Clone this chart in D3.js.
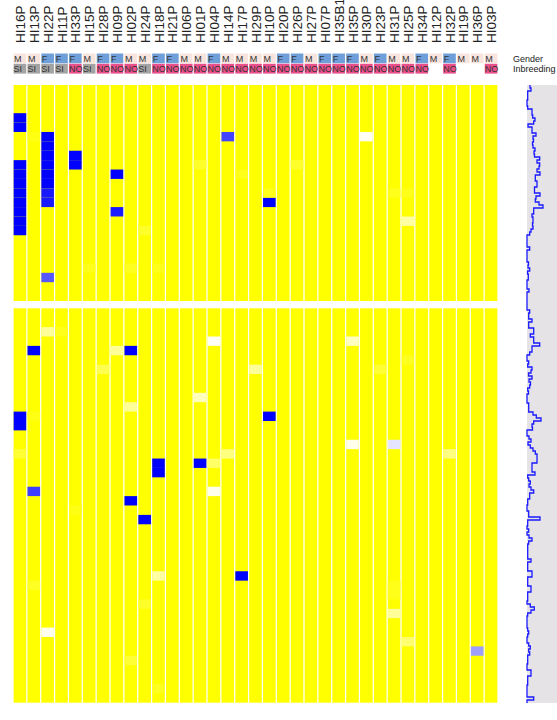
<!DOCTYPE html>
<html>
<head>
<meta charset="utf-8">
<script src="https://cdn.jsdelivr.net/npm/d3@7"></script>
<style>
  body { margin: 0; background: #fff; }
  svg { display: block; font-family: "Liberation Sans", Arial, sans-serif; }
</style>
</head>
<body>
<div id="chart"></div>
<script>
// samples (columns), in plot order
const SAMPLES = ["HI16P", "HI13P", "HI22P", "HI11P", "HI33P", "HI15P", "HI28P", "HI09P", "HI02P", "HI24P",
    "HI18P", "HI21P", "HI06P", "HI01P", "HI04P", "HI14P", "HI17P", "HI29P", "HI10P", "HI20P",
    "HI26P", "HI27P", "HI07P", "HI35B1", "HI35P", "HI30P", "HI23P", "HI31P", "HI25P", "HI34P",
    "HI12P", "HI32P", "HI19P", "HI36P", "HI03P"];
const GENDER = ["M", "M", "F", "F", "F", "M", "F", "F", "M", "M",
    "F", "F", "M", "M", "F", "M", "M", "M", "M", "F",
    "F", "M", "F", "F", "F", "M", "F", "M", "M", "F",
    "M", "F", "M", "M", "M"];
const INBREEDING = ["SI", "SI", "SI", "SI", "NO", "SI", "NO", "NO", "NO", "SI",
    "NO", "NO", "NO", "NO", "NO", "NO", "NO", "NO", "NO", "NO",
    "NO", "NO", "NO", "NO", "NO", "NO", "NO", "NO", "NO", "NO",
    "", "NO", "", "", "NO"];

// rows: two blocks
const TOP_ROWS = 23;
const BOTTOM_ROWS = 42;

// non-background cells: [sample, row, value]  (0 = yellow, 0.5 = white, 1 = blue)
const CELLS = [
    ["HI16P", 3, 1], ["HI16P", 4, 1],
    ["HI16P", 8, 1], ["HI16P", 9, 1], ["HI16P", 10, 1], ["HI16P", 11, 1],
    ["HI16P", 12, 1], ["HI16P", 13, 1], ["HI16P", 14, 1], ["HI16P", 15, 1],
    ["HI13P", 5, 0.04],
    ["HI22P", 5, 1], ["HI22P", 6, 1], ["HI22P", 7, 1], ["HI22P", 8, 1],
    ["HI22P", 9, 1], ["HI22P", 10, 1], ["HI22P", 11, 0.95], ["HI22P", 12, 0.95],
    ["HI22P", 20, 0.83],
    ["HI33P", 7, 1], ["HI33P", 8, 1],
    ["HI09P", 9, 1], ["HI09P", 13, 0.95],
    ["HI14P", 5, 0.87],
    ["HI01P", 8, 0.08], ["HI17P", 9, 0.05], ["HI24P", 15, 0.08],
    ["HI15P", 19, 0.05], ["HI02P", 19, 0.06], ["HI18P", 19, 0.05],
    ["HI10P", 12, 1], ["HI10P", 11, 0.05],
    ["HI30P", 5, 0.48],
    ["HI25P", 14, 0.32],
    ["HI26P", 8, 0.08], ["HI31P", 11, 0.05], ["HI25P", 11, 0.05],
    // bottom block
    ["HI22P", 25, 0.3], ["HI11P", 25, 0.05],
    ["HI13P", 27, 1], ["HI09P", 27, 0.3], ["HI02P", 27, 1],
    ["HI04P", 26, 0.48],
    ["HI28P", 29, 0.15], ["HI29P", 29, 0.3],
    ["HI01P", 32, 0.37], ["HI02P", 33, 0.3],
    ["HI16P", 34, 1], ["HI16P", 35, 1], ["HI13P", 34, 0.04],
    ["HI16P", 38, 0.1],
    ["HI18P", 39, 1], ["HI18P", 40, 1],
    ["HI01P", 39, 1], ["HI04P", 39, 0.2], ["HI14P", 38, 0.25],
    ["HI04P", 42, 0.46], ["HI13P", 42, 0.88],
    ["HI02P", 43, 1], ["HI24P", 45, 1],
    ["HI18P", 51, 0.32], ["HI17P", 51, 1],
    ["HI22P", 57, 0.47],
    ["HI24P", 54, 0.08], ["HI13P", 52, 0.07], ["HI02P", 60, 0.1], ["HI18P", 63, 0.06], ["HI33P", 44, 0.04],
    ["HI35P", 26, 0.38], ["HI23P", 29, 0.1], ["HI25P", 28, 0.06],
    ["HI10P", 34, 1],
    ["HI35P", 37, 0.46], ["HI31P", 37, 0.55], ["HI32P", 38, 0.25],
    ["HI31P", 55, 0.3], ["HI25P", 58, 0.22], ["HI36P", 59, 0.69],
    ["HI31P", 52, 0.05], ["HI31P", 53, 0.05]
];

// inbreeding profile along the rows (side panel), evenly spaced samples top->bottom
const PROFILE = [3, 4, 0.7, 0.7, 0.7, 0, 0, 0.7, 5, 5,
    5.7, 8, 6.7, 1, 5, 5, 9, 6, 6.5, 5.5,
    6, 8, 7, 7.5, 12.7, 10, 12.7, 12, 10, 13,
    8.3, 8.3, 10, 10, 7.5, 7.5, 13, 9, 8.3, 12,
    16, 6.7, 6.7, 5, 6, 6, 5.5, 6, 4, 2.7,
    0, 0, 0, 0, 2.7, 0, 0, 0, 0, 1.5,
    1, 2.7, 0.5, 1.3, 1.3, 0, 0, 0, 2, 0,
    0, 0, 0, 0, 0, 2.7, 1.7, 1.7, 5, 1.7,
    1.7, 6.7, 6.7, 3.3, 6.7, 6.7, 12.7, 5, 5, 2.7,
    0, 0, 1.7, 0.7, 5, 4, 1.5, 5, 2, 3.5,
    2.7, 0.7, 1.5, 0, 0, 0, 1.7, 1.7, 1.7, 6,
    9.3, 14, 6.7, 5, 5.5, 0, 0, 2, 4, 1,
    3.3, 6, 8.3, 10, 10, 10, 5, 5, 5, 8,
    0.7, 1.7, 3.3, 2, 4, 6.7, 2.7, 2.7, 0.7, 0.7,
    0, 0, 1.7, 1.7, 13, 0.7, 0.7, 0, 1.7, 0,
    2, 5, 1.7, 0.7, 0.7, 0.7, 0.7, 0.7, 4, 0.7,
    0.7, 0.7, 5, 5, 0.7, 0.7, 0.7, 4, 4, 0.7,
    0.7, 0.7, 0, 3.3, 7.3, 4, 0.7, 0, 0, 0,
    0, 0.7, 1.7, 0.7, 0, 0, 1.7, 3.3, 1.7, 2.7,
    0.7, 0.7, 0.7, 0, 0, 4, 4, 0.7, 0.7, 0.7,
    0, 0, 0, 0, 6.7, 0, 0];

const WIDTH = 557, HEIGHT = 720;
const HEAT = { left: 13, right: 498 };
const TOP_BLOCK = { top: 85, bottom: 301 };
const BOTTOM_BLOCK = { top: 308.3, bottom: 702.7 };
const SIDE = { left: 527, right: 557, top: 85, bottom: 703 };

const svg = d3.select("#chart")
    .append("svg")
    .attr("width", WIDTH)
    .attr("height", HEIGHT);

const X_SCALE = d3.scaleBand()
    .domain(SAMPLES)
    .range([HEAT.left, HEAT.right])
    .paddingInner(0.09)
    .paddingOuter(0.045);

const Y_TOP = d3.scaleBand()
    .domain(d3.range(0, TOP_ROWS))
    .range([TOP_BLOCK.top, TOP_BLOCK.bottom]);
const Y_BOTTOM = d3.scaleBand()
    .domain(d3.range(TOP_ROWS, TOP_ROWS + BOTTOM_ROWS))
    .range([BOTTOM_BLOCK.top, BOTTOM_BLOCK.bottom]);

const COLOR = d3.scaleLinear()
    .domain([0, 0.5, 1])
    .range(["#ffff00", "#ffffff", "#0000ff"]);

// column backgrounds (value 0 everywhere) for both blocks
const blocks = [
    { scale: Y_TOP, b: TOP_BLOCK },
    { scale: Y_BOTTOM, b: BOTTOM_BLOCK }
];
blocks.forEach((blk) => {
    svg.append("g").selectAll("rect")
        .data(SAMPLES)
        .enter()
        .append("rect")
        .attr("x", (d) => X_SCALE(d))
        .attr("y", blk.b.top)
        .attr("width", X_SCALE.bandwidth())
        .attr("height", blk.b.bottom - blk.b.top)
        .attr("fill", COLOR(0));
});

// the coloured cells
svg.append("g").selectAll("rect")
    .data(CELLS)
    .enter()
    .append("rect")
    .attr("x", (d) => X_SCALE(d[0]))
    .attr("y", (d) => d[1] < TOP_ROWS ? Y_TOP(d[1]) : Y_BOTTOM(d[1]))
    .attr("width", X_SCALE.bandwidth())
    .attr("height", Y_TOP.bandwidth())
    .attr("fill", (d) => COLOR(d[2]));

// sample labels
svg.append("g").selectAll("text")
    .data(SAMPLES)
    .enter()
    .append("text")
    .attr("transform", (d) => "translate(" + (X_SCALE(d) + X_SCALE.bandwidth() / 2 + 5) + ",43) rotate(-90)")
    .attr("font-size", "13.5px")
    .attr("fill", "#222")
    .text((d) => d);

// gender / inbreeding annotation rows
const GENDER_COLOR = { M: "#f7e4dd", F: "#6f9fd9" };
const INBREED_COLOR = { SI: "#a3a3a3", NO: "#e9508b" };
const ANNOT_Y = { gender: 53.5, inbreeding: 63.8 };
const ANNOT_H = 9.8;

const annot = svg.append("g");
SAMPLES.forEach((s, i) => {
    const x = X_SCALE(s);
    annot.append("rect")
        .attr("x", x).attr("y", ANNOT_Y.gender)
        .attr("width", X_SCALE.bandwidth()).attr("height", ANNOT_H)
        .attr("fill", GENDER_COLOR[GENDER[i]]);
    annot.append("text")
        .attr("x", x + 0.5).attr("y", ANNOT_Y.gender + 8)
        .attr("font-size", "9px").attr("fill", "#333")
        .text(GENDER[i]);
    if (INBREEDING[i] !== "") {
        annot.append("rect")
            .attr("x", x).attr("y", ANNOT_Y.inbreeding)
            .attr("width", X_SCALE.bandwidth()).attr("height", ANNOT_H)
            .attr("fill", INBREED_COLOR[INBREEDING[i]]);
        annot.append("text")
            .attr("x", x).attr("y", ANNOT_Y.inbreeding + 8)
            .attr("font-size", "9px").attr("fill", "#333")
            .text(INBREEDING[i]);
    }
});

svg.append("text")
    .attr("x", 513).attr("y", ANNOT_Y.gender + 8)
    .attr("font-size", "9px").attr("fill", "#222")
    .text("Gender");
svg.append("text")
    .attr("x", 513).attr("y", ANNOT_Y.inbreeding + 8)
    .attr("font-size", "9px").attr("fill", "#222")
    .text("Inbreeding");

// side profile panel
svg.append("rect")
    .attr("x", SIDE.left).attr("y", SIDE.top)
    .attr("width", SIDE.right - SIDE.left)
    .attr("height", SIDE.bottom - SIDE.top)
    .attr("fill", "#e6e3e7");

const P_X = d3.scaleLinear().domain([0, 30]).range([SIDE.left, SIDE.right]);
const P_Y = d3.scaleLinear().domain([0, PROFILE.length - 1]).range([SIDE.top, SIDE.bottom]);

svg.append("path")
    .datum(PROFILE)
    .attr("d", d3.line()
        .x((d) => P_X(d))
        .y((d, i) => P_Y(i))
        .curve(d3.curveStepBefore))
    .attr("fill", "none")
    .attr("stroke", "#1a1aff")
    .attr("stroke-width", 1.3);
</script>
</body>
</html>
